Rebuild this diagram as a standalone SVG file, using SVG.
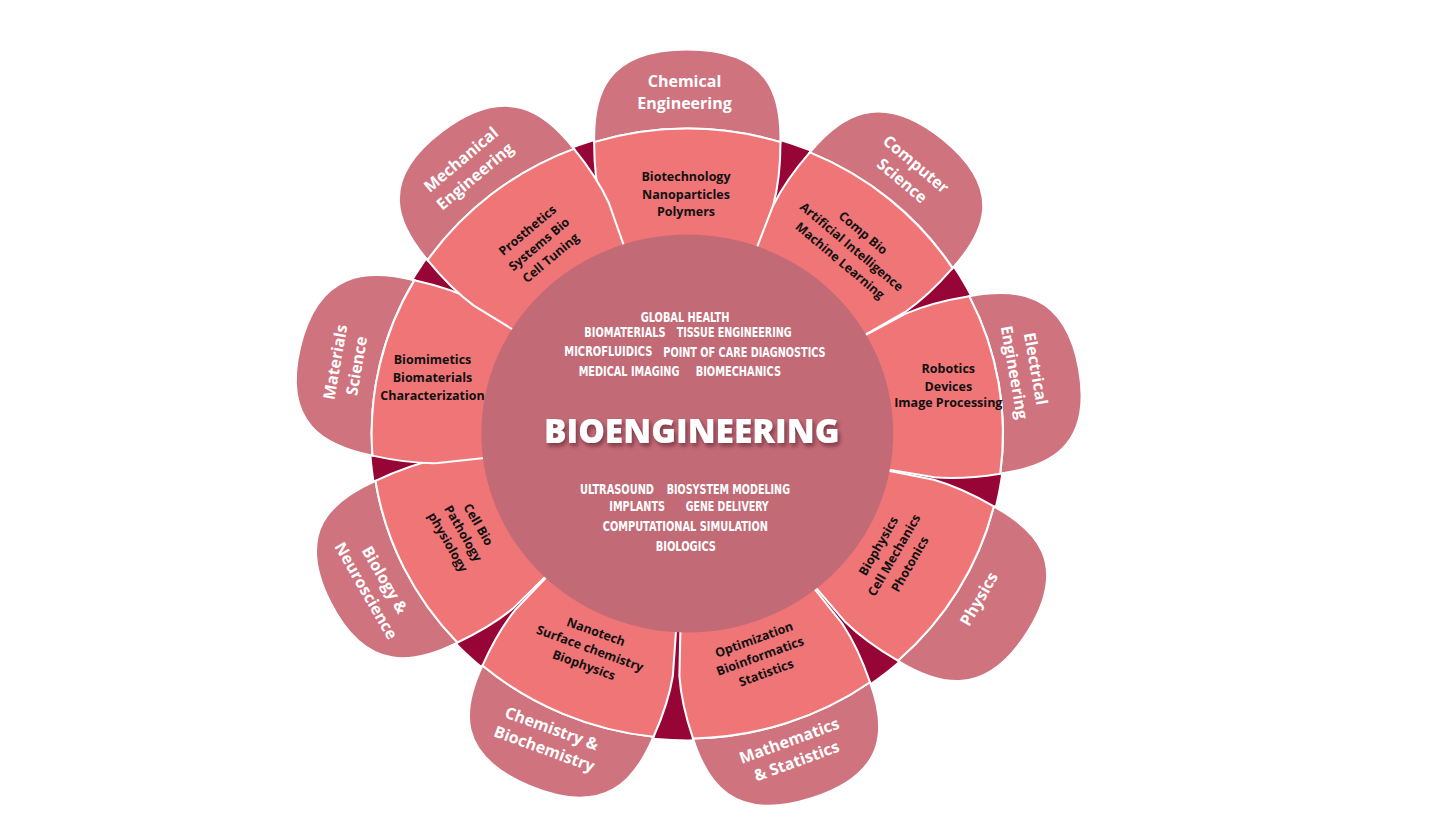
<svg xmlns="http://www.w3.org/2000/svg" width="1456" height="819" viewBox="0 0 1456 819">
<style>
.pink{fill:#CF737E;stroke:#fff;stroke-width:2}
.salmon{fill:#F07577;stroke:#fff;stroke-width:2}
.lbl{font-family:"Open Sans","Noto Sans","Liberation Sans",sans-serif;font-weight:700;font-size:16px;fill:#fff;text-anchor:middle}
.in{font-family:"Open Sans","Noto Sans","Liberation Sans",sans-serif;font-weight:700;font-size:12.5px;fill:#111;text-anchor:middle}
.kw{font-family:"Liberation Sans Narrow","DejaVu Sans Condensed","Liberation Sans",sans-serif;font-weight:700;font-size:14px;fill:#fff}
.title{font-family:"Open Sans","Noto Sans","Liberation Sans",sans-serif;font-weight:800;font-size:33.5px;fill:#fff;text-anchor:middle}
</style>
<defs>
<path id="pinkShape" d="M -90,-291.4 C -91,-337 -80,-384 0,-384 C 80,-384 91,-337 90,-291.4 A 305 305 0 0 0 -90,-291.4 Z"/>
<path id="salmonShape" d="M -52,-140 L -83,-228 Q -90,-255 -90,-291.4 A 305 305 0 0 1 90,-291.4 Q 90,-255 83,-228 L 52,-140 Z"/>
<filter id="shadow" x="-10%" y="-30%" width="120%" height="160%">
<feDropShadow dx="2" dy="3" stdDeviation="2" flood-color="#4a1020" flood-opacity="0.6"/>
</filter>
</defs>
<rect width="1456" height="819" fill="#fff"/>

<g id="flower" transform="translate(687.3,433.5) scale(1.035,1)">
<circle id="ring" r="306" fill="#960536"/>
<g id="p-chemical"><use href="#pinkShape" class="pink"/><use href="#salmonShape" class="salmon"/></g>
<g id="p-computer" transform="rotate(40)"><use href="#pinkShape" class="pink"/><use href="#salmonShape" class="salmon"/></g>
<g id="p-electrical" transform="rotate(80.4)"><use href="#pinkShape" class="pink"/><use href="#salmonShape" class="salmon"/></g>
<g id="p-physics" transform="rotate(121)"><use href="#pinkShape" class="pink"/><use href="#salmonShape" class="salmon"/></g>
<g id="p-math" transform="rotate(161.8)"><use href="#pinkShape" class="pink"/><use href="#salmonShape" class="salmon"/></g>
<g id="p-chemistry" transform="rotate(203.3)"><use href="#pinkShape" class="pink"/><use href="#salmonShape" class="salmon"/></g>
<g id="p-biology" transform="rotate(243.9)"><use href="#pinkShape" class="pink"/><use href="#salmonShape" class="salmon"/></g>
<g id="p-materials" transform="rotate(283)"><use href="#pinkShape" class="pink"/><use href="#salmonShape" class="salmon"/></g>
<g id="p-mechanical" transform="rotate(321.8)"><use href="#pinkShape" class="pink"/><use href="#salmonShape" class="salmon"/></g>
<circle id="core" r="199" fill="#C26B77"/>
</g>

<g id="labels-outer">
<g id="l-chemical" transform="translate(684.5,92.5)"><text class="lbl"><tspan x="0" y="-5.3">Chemical</tspan><tspan x="0" y="16.3">Engineering</tspan></text></g>
<g id="l-computer" transform="translate(909,172.5) rotate(40)"><text class="lbl"><tspan x="0" y="-5.3">Computer</tspan><tspan x="0" y="16.3">Science</tspan></text></g>
<g id="l-electrical" transform="translate(1025,370.5) rotate(80)"><text class="lbl"><tspan x="0" y="-5.3">Electrical</tspan><tspan x="0" y="16.3">Engineering</tspan></text></g>
<g id="l-physics" transform="translate(979,599) rotate(-60)"><text class="lbl"><tspan x="0" y="5.5">Physics</tspan></text></g>
<g id="l-math" transform="translate(793,751) rotate(-20)"><text class="lbl"><tspan x="0" y="-5.3">Mathematics</tspan><tspan x="0" y="16.3">&amp; Statistics</tspan></text></g>
<g id="l-chemistry" transform="translate(548,738.7) rotate(20)"><text class="lbl"><tspan x="0" y="-5.3">Chemistry &amp;</tspan><tspan x="0" y="16.3">Biochemistry</tspan></text></g>
<g id="l-biology" transform="translate(375.3,585.3) rotate(60)"><text class="lbl"><tspan x="0" y="-5.3">Biology &amp;</tspan><tspan x="0" y="16.3">Neuroscience</tspan></text></g>
<g id="l-materials" transform="translate(346,364) rotate(-80)"><text class="lbl"><tspan x="0" y="-5.3">Materials</tspan><tspan x="0" y="16.3">Science</tspan></text></g>
<g id="l-mechanical" transform="translate(468,168) rotate(-40)"><text class="lbl"><tspan x="0" y="-5.3">Mechanical</tspan><tspan x="0" y="16.3">Engineering</tspan></text></g>
</g>

<g id="labels-inner">
<g id="i-chemical" transform="translate(686,194)"><text class="in"><tspan x="0" y="-13">Biotechnology</tspan><tspan x="0" y="4.5">Nanoparticles</tspan><tspan x="0" y="22">Polymers</tspan></text></g>
<g id="i-computer" transform="translate(851.7,246.7) rotate(40)"><text class="in"><tspan x="0" y="-13.5">Comp Bio</tspan><tspan x="0" y="4.5">Artificial Intelligence</tspan><tspan x="0" y="22.5">Machine Learning</tspan></text></g>
<g id="i-electrical" transform="translate(948.3,386)"><text class="in"><tspan x="0" y="-12.7">Robotics</tspan><tspan x="0" y="4.5">Devices</tspan><tspan x="0" y="21.2">Image Processing</tspan></text></g>
<g id="i-physics" transform="translate(894,555) rotate(-60)"><text class="in"><tspan x="0" y="-13.7">Biophysics</tspan><tspan x="0" y="4.5">Cell Mechanics</tspan><tspan x="0" y="22.7">Photonics</tspan></text></g>
<g id="i-math" transform="translate(760,656) rotate(-20)"><text class="in"><tspan x="0" y="-13.2">Optimization</tspan><tspan x="0" y="4.5">Bioinformatics</tspan><tspan x="0" y="22.2">Statistics</tspan></text></g>
<g id="i-chemistry" transform="translate(590,648.3) rotate(20)"><text class="in"><tspan x="0" y="-13.2">Nanotech</tspan><tspan x="0" y="4.5">Surface chemistry</tspan><tspan x="0" y="22.2">Biophysics</tspan></text></g>
<g id="i-biology" transform="translate(463.3,533.3) rotate(60)"><text class="in"><tspan x="0" y="-13.1">Cell Bio</tspan><tspan x="0" y="4.5">Pathology</tspan><tspan x="0" y="22.1">physiology</tspan></text></g>
<g id="i-materials" transform="translate(432.5,377.5)"><text class="in"><tspan x="0" y="-13.5">Biomimetics</tspan><tspan x="0" y="4.5">Biomaterials</tspan><tspan x="0" y="22.5">Characterization</tspan></text></g>
<g id="i-mechanical" transform="translate(539,244) rotate(-40)"><text class="in"><tspan x="0" y="-13.5">Prosthetics</tspan><tspan x="0" y="4.5">Systems Bio</tspan><tspan x="0" y="22.5">Cell Tuning</tspan></text></g>
</g>

<g id="center-text">
<text class="kw" x="640.7" y="321.7" textLength="88.7" lengthAdjust="spacingAndGlyphs">GLOBAL HEALTH</text>
<text class="kw" x="584.3" y="337.3" textLength="81.3" lengthAdjust="spacingAndGlyphs">BIOMATERIALS</text>
<text class="kw" x="676.7" y="337.3" textLength="115" lengthAdjust="spacingAndGlyphs">TISSUE ENGINEERING</text>
<text class="kw" x="564.3" y="355.5" textLength="88" lengthAdjust="spacingAndGlyphs">MICROFLUIDICS</text>
<text class="kw" x="663.3" y="356.5" textLength="162.3" lengthAdjust="spacingAndGlyphs">POINT OF CARE DIAGNOSTICS</text>
<text class="kw" x="578.7" y="375.7" textLength="100.7" lengthAdjust="spacingAndGlyphs">MEDICAL IMAGING</text>
<text class="kw" x="695.7" y="375.7" textLength="85.3" lengthAdjust="spacingAndGlyphs">BIOMECHANICS</text>
<text class="title" x="691.7" y="443" filter="url(#shadow)">BIOENGINEERING</text>
<text class="kw" x="580" y="494.3" textLength="74" lengthAdjust="spacingAndGlyphs">ULTRASOUND</text>
<text class="kw" x="666.7" y="494.3" textLength="123.3" lengthAdjust="spacingAndGlyphs">BIOSYSTEM MODELING</text>
<text class="kw" x="609.3" y="511" textLength="55.7" lengthAdjust="spacingAndGlyphs">IMPLANTS</text>
<text class="kw" x="685.7" y="511" textLength="83" lengthAdjust="spacingAndGlyphs">GENE DELIVERY</text>
<text class="kw" x="602.7" y="530.7" textLength="165.3" lengthAdjust="spacingAndGlyphs">COMPUTATIONAL SIMULATION</text>
<text class="kw" x="655.7" y="550.7" textLength="60.3" lengthAdjust="spacingAndGlyphs">BIOLOGICS</text>
</g>
</svg>
